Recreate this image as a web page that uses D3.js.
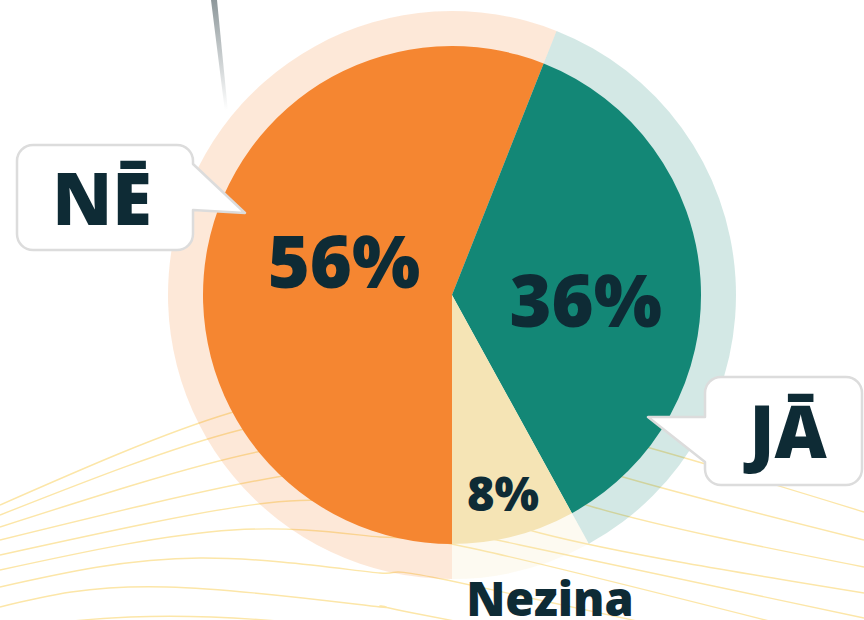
<!DOCTYPE html>
<head>
  <meta charset="utf-8">
  <script src="https://d3js.org/d3.v7.min.js"></script>
  <style>
    body { margin: 0; background: #fff; }
    svg { display: block; font-family: "Noto Sans", "Lato", sans-serif; }
  </style>
</head>
<body>
<div id="chart"></div>
<script>
// answers, shares (%), colours
var categories = ["NĒ", "JĀ", "Nezina"];
var values = [56, 36, 8];
var labels = ["56%", "36%", "8%"];
var colors = ["#F58631", "#138776", "#F5E4B5"];

// decorative wave lines in the background (x, y points)
var waves = [
  [[0,505],[230,413],[420,396],[650,448],[864,512]],
  [[0,515],[240,430],[420,422],[623,477],[864,540]],
  [[0,527],[257,452],[420,450],[593,507],[864,567]],
  [[0,540],[277,477],[400,481],[540,533],[864,593]],
  [[0,555],[267,503],[380,512],[520,545],[864,618]],
  [[0,570],[233,530],[380,537],[480,550],[864,645]],
  [[0,587],[200,558],[380,573],[447,580],[864,670]],
  [[0,607],[167,587],[380,607],[413,613],[864,700]],
  [[0,630],[130,617],[300,623],[500,650]]
];

var width = 864, height = 620;
var cx = 452, cy = 295;
var radius = 249, ringRadius = 284;
var textColor = "#0E2B35";

var svg = d3.select("#chart").append("svg")
    .attr("width", width)
    .attr("height", height);

// background waves
var waveLine = d3.line().curve(d3.curveNatural);
svg.append("g")
  .selectAll("path")
  .data(waves)
  .enter()
  .append("path")
  .attr("d", waveLine)
  .attr("fill", "none")
  .attr("stroke", "#FCE6A8")
  .attr("stroke-width", 1.4);

var pie = d3.pie()
    .sort(null)
    .startAngle(Math.PI)
    .endAngle(Math.PI * 3)
    .value(function(d) { return d; });
var arcs = pie(values);

var g = svg.append("g").attr("transform", "translate(" + cx + "," + cy + ")");

// pale outer ring
var ringArc = d3.arc().innerRadius(0).outerRadius(ringRadius);
g.selectAll(".ring")
  .data(arcs)
  .enter()
  .append("path")
  .attr("class", "ring")
  .attr("d", ringArc)
  .attr("fill", function(d, i) { return colors[i]; })
  .attr("fill-opacity", 0.19);

// slices
var arc = d3.arc().innerRadius(0).outerRadius(radius);
g.selectAll(".slice")
  .data(arcs)
  .enter()
  .append("path")
  .attr("class", "slice")
  .attr("d", arc)
  .attr("fill", function(d, i) { return colors[i]; });

// percentage labels
var labelRadius = [110, 134, 205];
var labelNudge = [-12, 14, 1];
var labelSize = [72, 72, 47];
g.selectAll(".pct")
  .data(arcs)
  .enter()
  .append("text")
  .attr("class", "pct")
  .attr("text-anchor", "middle")
  .attr("font-weight", 900)
  .attr("font-size", function(d, i) { return labelSize[i]; })
  .attr("fill", textColor)
  .attr("transform", function(d, i) {
      var c = d3.arc().innerRadius(labelRadius[i]).outerRadius(labelRadius[i]).centroid(d);
      return "translate(" + c[0] + "," + (c[1] + labelNudge[i] + labelSize[i] * 0.36) + ")";
  })
  .text(function(d, i) { return labels[i]; });

// "Nezina" caption under the small slice
svg.append("text")
  .attr("x", 550)
  .attr("y", 616)
  .attr("text-anchor", "middle")
  .attr("font-weight", 900)
  .attr("font-size", 47)
  .attr("fill", textColor)
  .text(categories[2]);

// fading grey line at the top
var defs = svg.append("defs");
var grad = defs.append("linearGradient")
    .attr("id", "fade")
    .attr("gradientUnits", "userSpaceOnUse")
    .attr("x1", 0).attr("y1", 0).attr("x2", 0).attr("y2", 110);
grad.append("stop").attr("offset", 0).attr("stop-color", "#8E989B").attr("stop-opacity", 1);
grad.append("stop").attr("offset", 1).attr("stop-color", "#8E989B").attr("stop-opacity", 0);
svg.append("path")
  .attr("d", "M211,0 L217,0 L228,112 L225,112 Z")
  .attr("fill", "url(#fade)");

// speech bubbles
function bubble(x, y, w, h, r, side, p1, tip, p2) {
    var p = d3.path();
    p.moveTo(x + r, y);
    p.lineTo(x + w - r, y);
    p.arcTo(x + w, y, x + w, y + r, r);
    if (side === "right") {
        p.lineTo(x + w, p1);
        p.lineTo(tip[0], tip[1]);
        p.lineTo(x + w, p2);
    }
    p.lineTo(x + w, y + h - r);
    p.arcTo(x + w, y + h, x + w - r, y + h, r);
    p.lineTo(x + r, y + h);
    p.arcTo(x, y + h, x, y + h - r, r);
    if (side === "left") {
        p.lineTo(x, p2);
        p.lineTo(tip[0], tip[1]);
        p.lineTo(x, p1);
    }
    p.lineTo(x, y + r);
    p.arcTo(x, y, x + r, y, r);
    p.closePath();
    return p.toString();
}

var bubbles = [
  { d: bubble(17, 145, 176, 105, 16, "right", 164, [245, 213], 210), text: categories[0], x: 102, y: 225 },
  { d: bubble(705, 377, 157, 108, 16, "left", 417, [648, 417], 462), text: categories[1], x: 788, y: 458 }
];

var b = svg.selectAll(".bubble")
  .data(bubbles)
  .enter()
  .append("g")
  .attr("class", "bubble");

b.append("path")
  .attr("d", function(d) { return d.d; })
  .attr("fill", "#fff")
  .attr("stroke", "#DCDCDC")
  .attr("stroke-width", 2.5)
  .attr("stroke-linejoin", "round");

b.append("text")
  .attr("x", function(d) { return d.x; })
  .attr("y", function(d) { return d.y; })
  .attr("text-anchor", "middle")
  .attr("font-weight", 900)
  .attr("font-size", 72)
  .attr("fill", textColor)
  .text(function(d) { return d.text; });
</script>
</body>
</html>
